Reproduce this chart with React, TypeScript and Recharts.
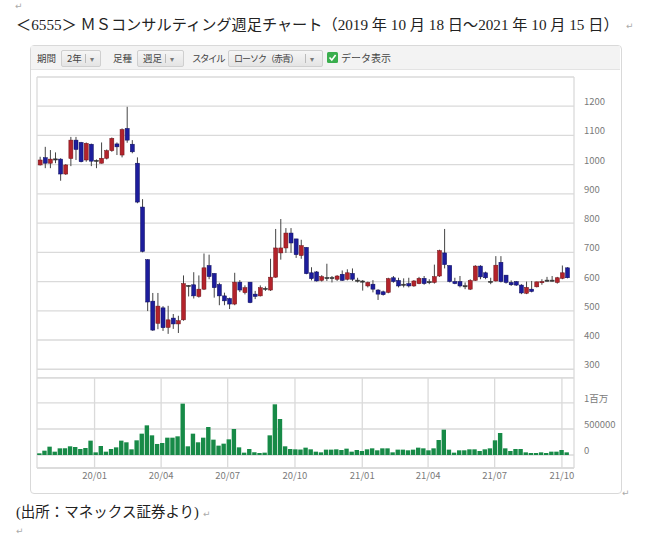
import React from 'react';
import { ComposedChart, Bar, XAxis, YAxis, CartesianGrid } from 'recharts';

// weekly candles (Friday of each week)
const dates = [
  '2019-10-18', '2019-10-25', '2019-11-01', '2019-11-08', '2019-11-15', '2019-11-22', '2019-11-29', '2019-12-06', '2019-12-13', '2019-12-20', '2019-12-27',
  '2020-01-03', '2020-01-10', '2020-01-17', '2020-01-24', '2020-01-31', '2020-02-07', '2020-02-14', '2020-02-21', '2020-02-28', '2020-03-06', '2020-03-13',
  '2020-03-20', '2020-03-27', '2020-04-03', '2020-04-10', '2020-04-17', '2020-04-24', '2020-05-01', '2020-05-08', '2020-05-15', '2020-05-22', '2020-05-29',
  '2020-06-05', '2020-06-12', '2020-06-19', '2020-06-26', '2020-07-03', '2020-07-10', '2020-07-17', '2020-07-24', '2020-07-31', '2020-08-07', '2020-08-14',
  '2020-08-21', '2020-08-28', '2020-09-04', '2020-09-11', '2020-09-18', '2020-09-25', '2020-10-02', '2020-10-09', '2020-10-16', '2020-10-23', '2020-10-30',
  '2020-11-06', '2020-11-13', '2020-11-20', '2020-11-27', '2020-12-04', '2020-12-11', '2020-12-18', '2020-12-25', '2021-01-01', '2021-01-08', '2021-01-15',
  '2021-01-22', '2021-01-29', '2021-02-05', '2021-02-12', '2021-02-19', '2021-02-26', '2021-03-05', '2021-03-12', '2021-03-19', '2021-03-26', '2021-04-02',
  '2021-04-09', '2021-04-16', '2021-04-23', '2021-04-30', '2021-05-07', '2021-05-14', '2021-05-21', '2021-05-28', '2021-06-04', '2021-06-11', '2021-06-18',
  '2021-06-25', '2021-07-02', '2021-07-09', '2021-07-16', '2021-07-23', '2021-07-30', '2021-08-06', '2021-08-13', '2021-08-20', '2021-08-27', '2021-09-03',
  '2021-09-10', '2021-09-17', '2021-09-24', '2021-10-01', '2021-10-08',
];

const open = [
  999, 1024, 1005, 1018, 1019, 968, 1021, 1084, 1076, 1016, 1070, 1015, 1005, 1022, 1048, 1071, 1033, 1124, 1070, 1005,
  855, 675, 533, 457, 510, 443, 475, 455, 469, 587, 589, 549, 574, 655, 628, 590, 551, 542, 523, 598,
  562, 598, 557, 551, 575, 571, 615, 698, 715, 766, 746, 689, 717, 630, 633, 604, 613, 612, 608, 625,
  608, 628, 605, 602, 585, 591, 571, 565, 563, 613, 604, 591, 593, 585, 593, 611, 599, 597, 619, 698,
  655, 600, 600, 586, 574, 604, 653, 630, 600, 602, 666, 622, 597, 600, 588, 560, 574, 582, 597, 604,
  603, 597, 611, 647,
];
const high = [
  1027, 1061, 1050, 1042, 1022, 1002, 1095, 1095, 1078, 1076, 1072, 1018, 1076, 1052, 1093, 1076, 1124, 1198, 1084, 1025,
  882, 677, 561, 561, 516, 517, 489, 483, 621, 588, 632, 621, 696, 692, 628, 596, 562, 545, 630, 605,
  587, 598, 568, 587, 583, 678, 780, 814, 783, 783, 746, 743, 717, 649, 636, 622, 661, 619, 622, 638,
  642, 645, 613, 605, 600, 605, 574, 569, 613, 619, 613, 611, 613, 605, 616, 619, 608, 658, 709, 780,
  655, 613, 619, 597, 608, 656, 656, 634, 613, 687, 687, 622, 604, 602, 591, 600, 602, 600, 608, 616,
  619, 616, 655, 649,
];
const low = [
  997, 988, 988, 1005, 945, 965, 995, 1016, 1008, 1010, 995, 988, 1004, 1018, 1044, 1033, 1025, 1075, 1039, 868,
  700, 499, 431, 437, 431, 421, 438, 424, 466, 549, 542, 545, 571, 608, 545, 519, 519, 506, 519, 564,
  556, 526, 540, 549, 568, 568, 613, 675, 698, 698, 681, 678, 625, 604, 600, 600, 602, 597, 602, 602,
  604, 602, 597, 569, 580, 563, 537, 552, 560, 596, 580, 580, 580, 582, 591, 589, 591, 593, 616, 645,
  597, 591, 580, 574, 571, 602, 608, 608, 591, 600, 597, 593, 585, 585, 557, 557, 563, 580, 589, 600,
  600, 593, 608, 611,
];
const close = [
  1016, 1005, 1019, 1020, 968, 999, 1084, 1052, 1010, 1073, 1012, 1014, 1022, 1048, 1090, 1061, 1120, 1084, 1044, 872,
  703, 530, 434, 516, 442, 469, 455, 466, 593, 585, 551, 574, 647, 617, 579, 551, 534, 523, 598, 571,
  579, 528, 549, 579, 577, 615, 715, 715, 766, 732, 692, 723, 627, 610, 602, 617, 614, 614, 619, 604,
  630, 608, 604, 600, 597, 574, 557, 555, 610, 600, 585, 590, 585, 602, 611, 593, 600, 617, 706, 658,
  600, 593, 585, 585, 604, 653, 616, 613, 601, 656, 600, 597, 589, 588, 561, 580, 566, 599, 600, 605,
  605, 613, 630, 613,
];
const volume = [
  32000, 83000, 160000, 64000, 128000, 128000, 167000, 154000, 115000, 135000, 276000, 51000, 173000, 64000, 115000, 147000, 276000, 244000, 109000, 282000,
  410000, 570000, 378000, 212000, 231000, 333000, 333000, 359000, 987000, 167000, 410000, 244000, 333000, 538000, 295000, 180000, 218000, 301000, 500000, 147000,
  45000, 115000, 51000, 38000, 45000, 378000, 974000, 692000, 167000, 115000, 109000, 105000, 141000, 109000, 64000, 51000, 103000, 103000, 109000, 96000,
  122000, 64000, 96000, 77000, 109000, 128000, 90000, 128000, 128000, 51000, 103000, 103000, 90000, 103000, 141000, 128000, 90000, 128000, 288000, 487000,
  103000, 45000, 90000, 90000, 109000, 109000, 77000, 109000, 128000, 282000, 423000, 128000, 77000, 115000, 115000, 51000, 38000, 38000, 51000, 38000,
  64000, 64000, 96000, 51000,
];

const monthTicks = ['2020-01-01', '2020-04-01', '2020-07-01', '2020-10-01', '2021-01-01', '2021-04-01', '2021-07-01', '2021-10-01'];
const priceTicks = [300, 400, 500, 600, 700, 800, 900, 1000, 1100, 1200];
const volumeTicks = [0, 500000, 1000000];

const RED = '#b3232b';
const BLUE = '#1d1d9c';
const GREEN = '#178a47';
const GRID = '#dadada';
const AXIS_FONT = '"Noto Sans CJK JP", "Noto Sans", sans-serif';

const ts = (d: string) => Date.parse(d + 'T00:00:00Z');
const xDomain = [Date.UTC(2019, 9, 14, 7), Date.UTC(2021, 9, 17, 12)];
const xTicks = monthTicks.map(ts);

const rows = dates.map((d, i) => ({
  t: ts(d),
  open: open[i],
  high: high[i],
  low: low[i],
  close: close[i],
  vol: volume[i],
}));

const Candle = (props: any) => {
  const { x, y, width, height, payload } = props;
  const { open: o, close: c, high: h, low: l } = payload;
  const ratio = h > l ? height / (h - l) : 0;
  const top = y + (h - Math.max(o, c)) * ratio;
  const bot = y + (h - Math.min(o, c)) * ratio;
  const cx = x + width / 2;
  const doji = Math.abs(c - o) <= 2;
  const fill = doji ? '#333' : c > o ? RED : BLUE;
  const edge = doji ? '#333' : c > o ? '#6e1218' : '#0e0e5a';
  return (
    <g>
      <line x1={cx} x2={cx} y1={y} y2={y + height} stroke="#444" strokeWidth={1} />
      <rect x={x} y={top} width={width} height={Math.max(bot - top, 1.2)} fill={fill} stroke={edge} strokeWidth={0.5} />
    </g>
  );
};

const RightTick = (props: any) => {
  const { x, y, payload, fmt } = props;
  return (
    <text x={x} y={y - 1} fontSize={9.5} fill="#7a7a7a" fontFamily={AXIS_FONT} textAnchor="start">
      {fmt ? fmt(payload.value) : payload.value}
    </text>
  );
};

const volLabel = (v: number) => (v === 1000000 ? '1百万' : String(v));
const monthLabel = (v: number) => {
  const d = new Date(v);
  return `${String(d.getUTCFullYear()).slice(2)}/${String(d.getUTCMonth() + 1).padStart(2, '0')}`;
};

const Select = ({ left, width, label, sep, tight }: { left: number; width: number; label: string; sep: number; tight?: boolean }) => (
  <div
    style={{
      position: 'absolute', left, top: 50, width, height: 15,
      border: '1px solid #cfcfcf', borderRadius: 2,
      background: 'linear-gradient(#f6f6f6, #e4e4e4)',
    }}
  >
    <span
      style={{
        position: 'absolute', left: 5, top: 0, lineHeight: '15px', whiteSpace: 'nowrap',
        fontSize: tight ? 9 : 9.5, letterSpacing: tight ? -1 : 0,
      }}
    >
      {label}
    </span>
    <span style={{ position: 'absolute', left: sep, top: 3, width: 1, height: 9, background: '#bbb' }} />
    <span style={{ position: 'absolute', left: sep + 5, top: 0, lineHeight: '15px', fontSize: 8, color: '#777' }}>▾</span>
  </div>
);

const Mark = ({ left, top }: { left: number; top: number }) => (
  <span style={{ position: 'absolute', left, top, fontSize: 9, lineHeight: '10px', color: '#aaa', fontFamily: '"DejaVu Sans"' }}>↵</span>
);

const label = (left: number, text: string, extra?: React.CSSProperties) => (
  <span style={{ position: 'absolute', left, top: 50, lineHeight: '16px', whiteSpace: 'nowrap', ...extra }}>{text}</span>
);

export default function App() {
  return (
    <div style={{ position: 'absolute', left: 0, top: 0, width: 650, height: 536, background: '#fff', overflow: 'hidden' }}>
      <Mark left={15} top={1} />
      <div
        style={{
          position: 'absolute', left: 16, top: 14, whiteSpace: 'nowrap', fontSize: 15.2, lineHeight: '22px', color: '#222',
          fontFamily: '"Liberation Serif", "Noto Sans CJK JP", serif',
        }}
      >
        ＜6555＞ ＭＳコンサルティング週足チャート（2019 年 10 月 18 日～2021 年 10 月 15 日）
      </div>
      <Mark left={626} top={21} />

      <div style={{ position: 'absolute', left: 30, top: 45, width: 590, height: 447, border: '1px solid #d9d9d9', borderRadius: 4 }} />
      <div style={{ position: 'absolute', left: 31, top: 46, width: 589, height: 23, background: '#f3f3f3', borderBottom: '1px solid #e3e3e3' }} />
      <div style={{ position: 'absolute', left: 0, top: 0, fontFamily: '"Noto Sans CJK JP", sans-serif', fontSize: 9.5, color: '#444' }}>
        {label(37, '期間')}
        <Select left={61} width={38} label="2年" sep={23} />
        {label(113, '足種')}
        <Select left={137} width={45} label="週足" sep={27} />
        {label(192, 'スタイル', { letterSpacing: -1.5 })}
        <Select left={228} width={93} label="ローソク（赤青）" sep={76} tight />
        <svg style={{ position: 'absolute', left: 327, top: 52 }} width={11} height={11}>
          <rect x={0} y={0} width={11} height={11} rx={1.5} fill="#3aae4e" />
          <polyline points="2.5,5.5 4.8,8 8.6,3" fill="none" stroke="#fff" strokeWidth={1.6} />
        </svg>
        {label(341, 'データ表示', { fontSize: 10 })}
      </div>

      <div style={{ position: 'absolute', left: 0, top: 0 }}>
        <ComposedChart width={650} height={378} data={rows} margin={{ top: 77, right: 0, bottom: 0, left: 37 }}>
          <CartesianGrid stroke={GRID} strokeWidth={1.3} />
          <XAxis dataKey="t" type="number" domain={xDomain} ticks={xTicks} height={0} tick={false} axisLine={false} tickLine={false} />
          <YAxis
            orientation="right" width={76} domain={[270, 1300]} ticks={priceTicks} interval={0} axisLine={false} tickLine={false}
            tickSize={0} tickMargin={10} tick={<RightTick />}
          />
          <Bar dataKey={(d: any) => [d.low, d.high]} barSize={4} shape={<Candle />} isAnimationActive={false} />
        </ComposedChart>
      </div>

      <div style={{ position: 'absolute', left: 0, top: 0 }}>
        <ComposedChart width={650} height={490} data={rows} margin={{ top: 378, right: 0, bottom: 0, left: 37 }}>
          <CartesianGrid stroke={GRID} strokeWidth={1.3} />
          <XAxis
            dataKey="t" type="number" domain={xDomain} ticks={xTicks} interval={0} height={22} tickFormatter={monthLabel}
            axisLine={{ stroke: GRID, strokeWidth: 1.3 }} tickLine={false} tickSize={0} tickMargin={4}
            tick={{ fontSize: 9.5, fill: '#7a7a7a', fontFamily: AXIS_FONT }}
          />
          <YAxis
            orientation="right" width={76} domain={[-250000, 1480000]} ticks={volumeTicks} interval={0} axisLine={false} tickLine={false}
            tickSize={0} tickMargin={10} tick={<RightTick fmt={volLabel} />}
          />
          <Bar dataKey="vol" barSize={4.4} fill={GREEN} isAnimationActive={false} />
        </ComposedChart>
      </div>

      <Mark left={622} top={488} />
      <div
        style={{
          position: 'absolute', left: 16, top: 501, whiteSpace: 'nowrap', fontSize: 14.5, lineHeight: '22px', color: '#222',
          fontFamily: '"Liberation Serif", "Noto Sans CJK JP", serif',
        }}
      >
        (出所：マネックス証券より)
      </div>
      <Mark left={203} top={509} />
      <Mark left={16} top={526} />
    </div>
  );
}
